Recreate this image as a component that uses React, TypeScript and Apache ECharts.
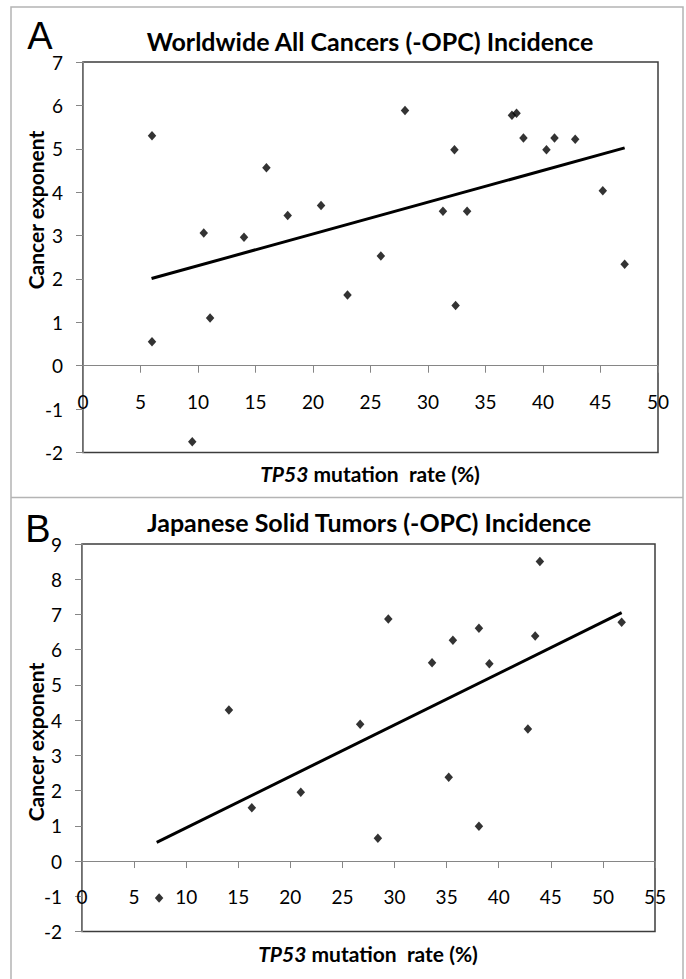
import React, { useEffect, useRef } from 'react';
import * as echarts from 'echarts';

// Panel A: Worldwide All Cancers (-OPC) Incidence
const xA = [6.0, 6.0, 9.5, 10.5, 11.05, 14.0, 15.95, 17.8, 20.7, 23.0, 25.9, 28.0, 31.3, 32.3, 32.4, 33.4, 37.3, 37.7, 38.3, 40.3, 41.0, 42.8, 45.2, 47.1];
const yA = [5.30, 0.55, -1.75, 3.06, 1.10, 2.96, 4.56, 3.46, 3.69, 1.63, 2.53, 5.88, 3.56, 4.98, 1.39, 3.56, 5.77, 5.82, 5.25, 4.98, 5.25, 5.22, 4.03, 2.34];
const trendA = [[5.96, 2.01], [47.1, 5.02]];

// Panel B: Japanese Solid Tumors (-OPC) Incidence
const xB = [7.4, 14.1, 16.3, 21.0, 26.7, 28.4, 29.4, 33.6, 35.2, 35.6, 38.1, 38.1, 39.1, 42.8, 43.5, 43.95, 51.8];
const yB = [-1.05, 4.29, 1.51, 1.95, 3.88, 0.65, 6.87, 5.63, 2.38, 6.27, 6.61, 0.99, 5.60, 3.75, 6.39, 8.5, 6.78];
const trendB = [[7.17, 0.53], [51.8, 7.05]];

// Axis ranges
const xMaxA = 50;
const xMaxB = 55;
const yMinA = -2;
const yMaxA = 7;
const yMinB = -2;
const yMaxB = 9;

const titleA = 'Worldwide All Cancers (-OPC) Incidence';
const titleB = 'Japanese Solid Tumors (-OPC) Incidence';
const yTitle = 'Cancer exponent';

const FONT = 'Lato';

const gridA = { left: 83, top: 62, width: 575, height: 390.5 };
const gridB = { left: 82, top: 544, width: 573, height: 387.5 };

function xAxisCfg(grid: number, max: number, offset: number) {
  return {
    gridIndex: grid,
    type: 'value',
    position: 'bottom',
    offset,
    min: 0,
    max,
    interval: 5,
    axisLine: { show: true, onZero: false, lineStyle: { color: '#868686', width: 1 } },
    axisTick: { show: true, inside: false, length: 7, lineStyle: { color: '#868686' } },
    axisLabel: { margin: 26, fontFamily: FONT, fontSize: 19, color: '#000' },
    splitLine: { show: false },
  };
}

function yAxisCfg(grid: number, min: number, max: number) {
  return {
    gridIndex: grid,
    type: 'value',
    min,
    max,
    interval: 1,
    axisLine: { show: true, onZero: false, lineStyle: { color: '#868686', width: 1 } },
    axisTick: { show: true, inside: false, length: 7, lineStyle: { color: '#868686' } },
    axisLabel: { margin: 20, fontFamily: FONT, fontSize: 19, color: '#000' },
    splitLine: { show: false },
  };
}

function textEl(x: number, y: number, text: string, font: string, extra: any = {}) {
  return {
    type: 'text',
    x,
    y,
    ...extra,
    style: {
      text,
      font,
      fill: '#000',
      align: 'center',
      verticalAlign: 'middle',
      textAlign: 'center',
      textVerticalAlign: 'middle',
    },
  };
}

function axisTitle(x: number, y: number) {
  return {
    type: 'text',
    x,
    y,
    style: {
      text: '{i|TP53}{b| mutation  rate (%)}',
      align: 'center',
      verticalAlign: 'middle',
      textAlign: 'center',
      textVerticalAlign: 'middle',
      rich: {
        i: { fontFamily: FONT, fontSize: 21, fontWeight: 'bold', fontStyle: 'italic', fill: '#000', color: '#000' },
        b: { fontFamily: FONT, fontSize: 21, fontWeight: 'bold', fill: '#000', color: '#000' },
      },
    },
  };
}

export default function App() {
  const ref = useRef<HTMLDivElement>(null);
  useEffect(() => {
    const chart = echarts.init(ref.current!, null, { renderer: 'svg' });
    const offA = -gridA.height * (0 - yMinA) / (yMaxA - yMinA);
    const offB = -gridB.height * (0 - yMinB) / (yMaxB - yMinB);
    const option: any = {
      animation: false,
      backgroundColor: '#fff',
      grid: [
        { ...gridA, show: true, borderColor: '#3c3c3c', borderWidth: 1.5, backgroundColor: 'transparent' },
        { ...gridB, show: true, borderColor: '#3c3c3c', borderWidth: 1.5, backgroundColor: 'transparent' },
      ],
      xAxis: [xAxisCfg(0, xMaxA, offA), xAxisCfg(1, xMaxB, offB)],
      yAxis: [yAxisCfg(0, yMinA, yMaxA), yAxisCfg(1, yMinB, yMaxB)],
      series: [
        {
          type: 'scatter', xAxisIndex: 0, yAxisIndex: 0,
          data: xA.map((x, i) => [x, yA[i]]),
          symbol: 'diamond', symbolSize: [8.5, 9.5], itemStyle: { color: '#000' },
        },
        {
          type: 'line', xAxisIndex: 0, yAxisIndex: 0, data: trendA,
          showSymbol: false, symbol: 'none', lineStyle: { color: '#000', width: 3 },
        },
        {
          type: 'scatter', xAxisIndex: 1, yAxisIndex: 1,
          data: xB.map((x, i) => [x, yB[i]]),
          symbol: 'diamond', symbolSize: [8.5, 9.5], itemStyle: { color: '#000' },
        },
        {
          type: 'line', xAxisIndex: 1, yAxisIndex: 1, data: trendB,
          showSymbol: false, symbol: 'none', lineStyle: { color: '#000', width: 3 },
        },
      ],
      graphic: [
        { type: 'rect', shape: { x: 11, y: 7, width: 672, height: 990 }, style: { fill: 'none', stroke: '#b4b4b4', lineWidth: 1.5 }, z: -1 },
        { type: 'line', shape: { x1: 11, y1: 497.5, x2: 683, y2: 497.5 }, style: { stroke: '#b4b4b4', lineWidth: 1.5 } },
        textEl(40, 36, 'A', '38px "Liberation Sans"'),
        textEl(38, 529, 'B', '38px "Liberation Sans"'),
        textEl(370, 41, titleA, `bold 25px ${FONT}`),
        textEl(369, 522, titleB, `bold 25px ${FONT}`),
        axisTitle(370, 473),
        axisTitle(368, 953),
        textEl(35, 210, yTitle, `bold 21px ${FONT}`, { rotation: Math.PI / 2 }),
        textEl(35, 742, yTitle, `bold 21px ${FONT}`, { rotation: Math.PI / 2 }),
      ],
    };
    chart.setOption(option);
    return () => chart.dispose();
  }, []);
  return (
    <div
      ref={ref}
      style={{ position: 'fixed', left: 0, top: 0, width: 686, height: 979, background: '#fff' }}
    />
  );
}
